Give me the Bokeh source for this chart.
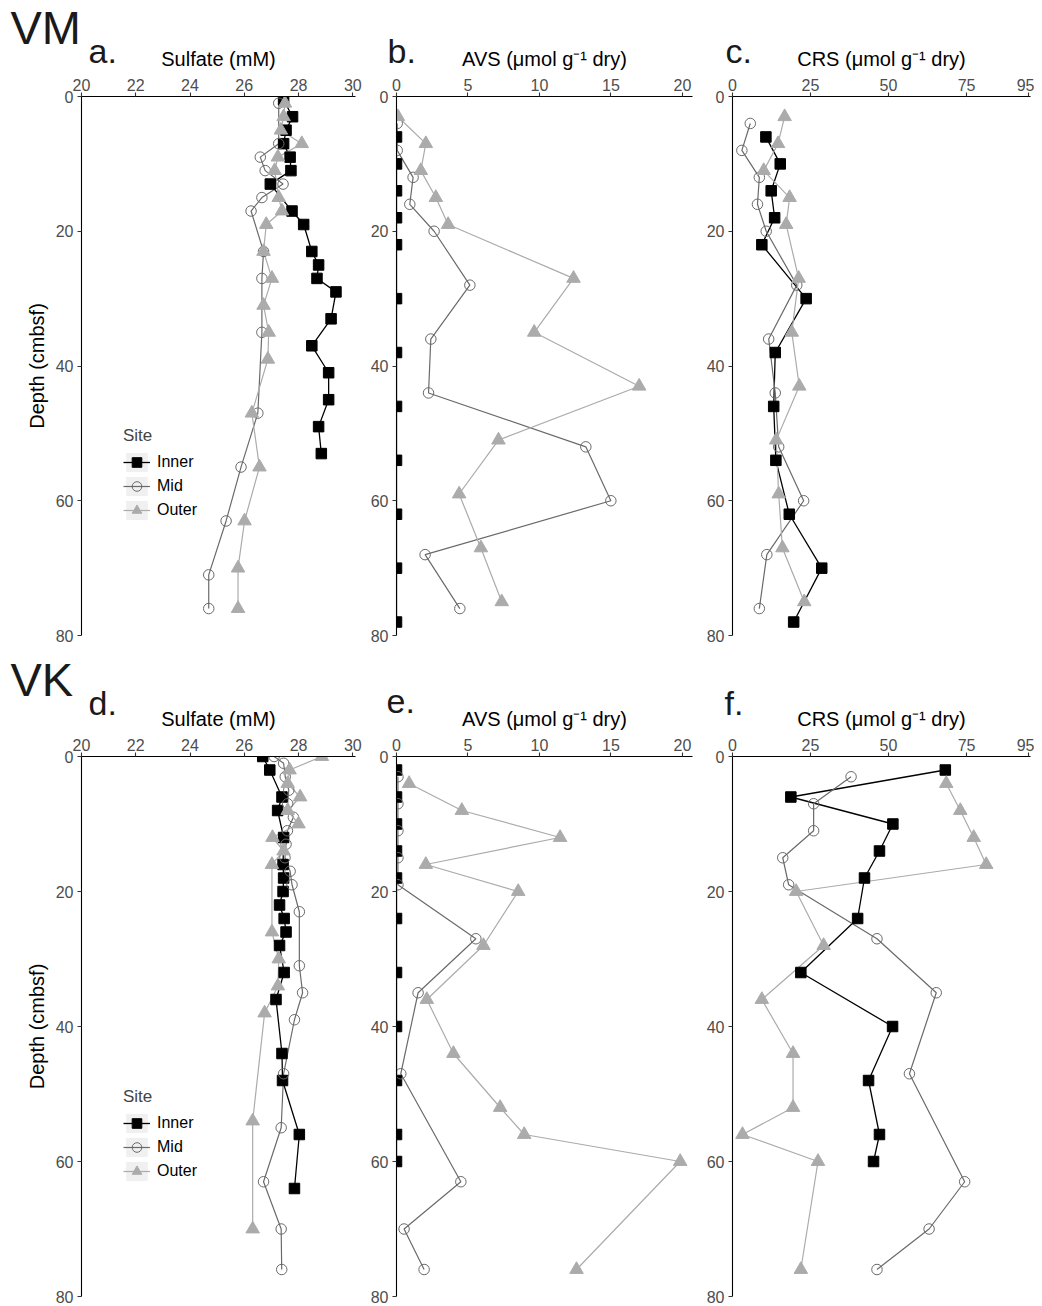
from bokeh.plotting import figure
from bokeh.models import Range1d, FixedTicker, Legend, LegendItem
from bokeh.core.properties import value
from bokeh.layouts import row, column
from bokeh.embed import file_html
from bokeh.resources import INLINE

FONT = "Liberation Sans"

# ---------------- data ----------------
depth_ticks = [0, 20, 40, 60, 80]
sulfate_ticks = [20, 22, 24, 26, 28, 30]
avs_ticks = [0, 5, 10, 15, 20]
crs_ticks = [0, 25, 50, 75, 95]
sites = ["Inner", "Mid", "Outer"]

# VM – sulfate (mM)
vm_so4_inner_depth = [0.5, 3, 5, 7, 9, 11, 13, 17, 19, 23, 25, 27, 29, 33, 37, 41, 45, 49, 53]
vm_so4_inner = [27.45, 27.78, 27.54, 27.45, 27.69, 27.72, 26.96, 27.76, 28.19, 28.49, 28.74, 28.68,
                29.38, 29.20, 28.49, 29.11, 29.11, 28.74, 28.84]
vm_so4_mid_depth = [1, 7, 9, 11, 13, 15, 17, 23, 27, 35, 47, 55, 63, 71, 76]
vm_so4_mid = [27.27, 27.27, 26.59, 26.77, 27.43, 26.65, 26.25, 26.71, 26.65, 26.65, 26.5, 25.88,
              25.33, 24.69, 24.69]
vm_so4_outer_depth = [1, 3, 5, 7, 9, 11, 15, 17, 19, 23, 27, 31, 35, 39, 47, 55, 63, 70, 76]
vm_so4_outer = [27.5, 27.45, 27.35, 28.12, 27.24, 27.12, 27.27, 27.39, 26.81, 26.71, 27.02, 26.71,
                26.9, 26.87, 26.28, 26.56, 26.01, 25.77, 25.77]

# VM – AVS (umol/g dry)
vm_avs_inner_depth = [6, 10, 14, 18, 22, 30, 38, 46, 54, 62, 70, 78]
vm_avs_inner = [0, 0, 0, 0, 0, 0, 0, 0, 0, 0, 0, 0]
vm_avs_mid_depth = [4, 8, 12, 16, 20, 28, 36, 44, 52, 60, 68, 76]
vm_avs_mid = [0.05, 0.05, 1.16, 0.93, 2.63, 5.13, 2.4, 2.24, 13.24, 14.99, 2.0, 4.43]
vm_avs_outer_depth = [3, 7, 11, 15, 19, 27, 35, 43, 51, 59, 67, 75]
vm_avs_outer = [0.1, 2.05, 1.7, 2.75, 3.61, 12.38, 9.63, 16.97, 7.13, 4.38, 5.9, 7.36]

# VM – CRS (umol/g dry)
vm_crs_inner_depth = [6, 10, 14, 18, 22, 30, 38, 46, 54, 62, 70, 78]
vm_crs_inner = [10.7, 15.3, 12.4, 13.5, 9.4, 23.6, 13.7, 13.2, 13.9, 18.2, 28.6, 19.6]
vm_crs_mid_depth = [4, 8, 12, 16, 20, 28, 36, 44, 52, 60, 68, 76]
vm_crs_mid = [5.7, 3.0, 8.6, 8.0, 10.8, 20.6, 11.6, 13.7, 14.8, 22.8, 11.0, 8.6]
vm_crs_outer_depth = [3, 7, 11, 15, 19, 27, 35, 43, 51, 59, 67, 75]
vm_crs_outer = [16.7, 14.6, 10.0, 18.3, 17.2, 21.2, 19.0, 21.4, 14.0, 14.8, 16.0, 23.0]

# VK – sulfate (mM)
vk_so4_inner_depth = [0, 2, 6, 8, 12, 16, 18, 20, 22, 24, 26, 28, 32, 36, 44, 48, 56, 64]
vk_so4_inner = [26.68, 26.94, 27.39, 27.23, 27.45, 27.43, 27.45, 27.43, 27.30, 27.47, 27.54, 27.30,
                27.47, 27.17, 27.39, 27.41, 28.03, 27.85]
vk_so4_mid_depth = [0, 1, 3, 5, 7, 9, 11, 13, 15, 17, 19, 23, 31, 35, 39, 47, 55, 63, 70, 76]
vk_so4_mid = [27.1, 27.45, 27.51, 27.64, 27.6, 27.81, 27.59, 27.54, 27.5, 27.69, 27.76, 28.03, 28.03,
              28.15, 27.85, 27.45, 27.36, 26.71, 27.36, 27.38]
vk_so4_outer_depth = [0, 2, 4, 6, 8, 10, 12, 14, 16, 26, 30, 34, 38, 54, 70]
vk_so4_outer = [28.86, 27.67, 27.6, 28.06, 27.6, 28.0, 27.04, 27.45, 27.02, 27.02, 27.27, 27.24,
                26.75, 26.31, 26.31]

# VK – AVS (umol/g dry)
vk_avs_inner_depth = [2, 6, 10, 14, 18, 24, 32, 40, 48, 56, 60]
vk_avs_inner = [0, 0, 0, 0, 0, 0, 0, 0, 0, 0, 0]
vk_avs_mid_depth = [3, 7, 11, 15, 19, 27, 35, 47, 63, 70, 76]
vk_avs_mid = [0.1, 0.1, 0.1, 0.1, 0.1, 5.55, 1.51, 0.3, 4.5, 0.53, 1.93]
vk_avs_outer_depth = [4, 8, 12, 16, 20, 28, 36, 44, 52, 56, 60, 76]
vk_avs_outer = [0.88, 4.57, 11.44, 2.05, 8.51, 6.08, 2.12, 3.98, 7.25, 8.93, 19.84, 12.59]

# VK – CRS (umol/g dry)
vk_crs_inner_depth = [2, 6, 10, 14, 18, 24, 32, 40, 48, 56, 60]
vk_crs_inner = [68.2, 18.7, 51.4, 47.1, 42.3, 40.1, 21.9, 51.3, 43.6, 47.1, 45.2]
vk_crs_mid_depth = [3, 7, 11, 15, 19, 27, 35, 47, 63, 70, 76]
vk_crs_mid = [38.0, 26.0, 26.0, 16.1, 18.0, 46.3, 65.3, 56.7, 74.4, 63.0, 46.3]
vk_crs_outer_depth = [4, 8, 12, 16, 20, 28, 36, 44, 52, 56, 60, 76]
vk_crs_outer = [68.5, 73.0, 77.3, 81.3, 20.4, 29.2, 9.4, 19.4, 19.4, 3.2, 27.4, 21.9]

# ---------------- styles ----------------
STYLE = {
    "Inner": dict(color="#000000", marker="square", size=10.5, fill="#000000", lw=1.3),
    "Mid": dict(color="#6a6a6a", marker="circle", size=10.5, fill=None, lw=1.2),
    "Outer": dict(color="#ababab", marker="triangle", size=13.5, fill="#ababab", lw=1.2),
}
TICK_COLOR = "#4d4d4d"
TOTAL_W = 1034

SO4_R = (20, 30.1)
AVS_R = (0, 20.7)
CRS_R = (0, 95.5)
SO4_LAB = "Sulfate (mM)"
AVS_LAB = "AVS (\u03bcmol g\u207b\u00b9 dry)"
CRS_LAB = "CRS (\u03bcmol g\u207b\u00b9 dry)"


def make_panel(xr, xticks, fw, fh, bl, bt, br, bb, ylabel=None):
    p = figure(frame_width=fw, frame_height=fh,
               x_range=Range1d(xr[0], xr[1]), y_range=Range1d(80, 0),
               x_axis_location="above", output_backend="svg", toolbar_location=None,
               min_border_left=bl, min_border_right=br, min_border_top=bt, min_border_bottom=bb)
    p.xgrid.visible = False
    p.ygrid.visible = False
    p.outline_line_color = None
    p.background_fill_color = "white"
    p.border_fill_color = "white"
    p.xaxis.ticker = FixedTicker(ticks=xticks)
    p.yaxis.ticker = FixedTicker(ticks=depth_ticks)
    p.yaxis.axis_label = ylabel
    for ax in (p.xaxis[0], p.yaxis[0]):
        ax.axis_line_color = "black"
        ax.axis_line_width = 1.1
        ax.major_tick_line_color = "#333333"
        ax.major_tick_line_width = 1.1
        ax.major_tick_out = 4
        ax.major_tick_in = 0
        ax.minor_tick_line_color = None
        ax.major_label_text_font = FONT
        ax.major_label_text_font_size = "16px"
        ax.major_label_text_color = TICK_COLOR
        ax.axis_label_text_font = FONT
        ax.axis_label_text_font_size = "20px"
        ax.axis_label_text_font_style = "normal"
        ax.axis_label_text_color = "black"
    p.xaxis.major_label_standoff = 2
    p.yaxis.major_label_standoff = 4
    p.yaxis.axis_label_standoff = 5
    return p


def add_series(p, series):
    lines, marks = {}, {}
    for site in sites:
        d, v = series[site]
        st = STYLE[site]
        lines[site] = p.line(x=v, y=d, line_color=st["color"], line_width=st["lw"])
    for site in sites:
        d, v = series[site]
        st = STYLE[site]
        marks[site] = p.scatter(x=v, y=d, marker=st["marker"], size=st["size"],
                                fill_color=st["fill"], line_color=st["color"], line_width=1.0)
    return lines, marks


def add_legend(p, lines, marks, loc):
    items = []
    for site in sites:
        bg = p.rect(x=[float("nan")], y=[float("nan")], width=1, height=1,
                    fill_color="#f0f0f0", line_color=None)
        items.append(LegendItem(label=site, renderers=[bg, lines[site], marks[site]]))
    lg = Legend(items=items, location=loc, title="Site",
                background_fill_alpha=0, border_line_color=None,
                padding=0, margin=0, spacing=0,
                glyph_width=27, glyph_height=24, label_standoff=7,
                label_text_font=FONT, label_text_font_size="16px", label_text_color="black",
                title_text_font=FONT, title_text_font_size="17px", title_text_font_style="normal",
                title_standoff=4)
    p.add_layout(lg)


def mid_y(baseline, size):
    # vertical middle of the text box for a wanted alphabetic baseline (Liberation Sans metrics)
    return baseline - 0.3465 * size


def header(h, row_tag, panel_tags, titles):
    """A text-only strip in pixel coordinates holding the row tag, panel tags and axis titles."""
    p = figure(frame_width=TOTAL_W, frame_height=h, x_range=Range1d(0, TOTAL_W),
               y_range=Range1d(h, 0), x_axis_type=None, y_axis_type=None,
               output_backend="svg", toolbar_location=None, min_border=0)
    p.grid.visible = False
    p.outline_line_color = None
    p.background_fill_color = "white"
    p.border_fill_color = "white"
    txt, x, y = row_tag
    p.text(x=[x], y=[mid_y(y, 47)], text=[txt], text_font=value(FONT), text_font_size=value("47px"),
           text_color="#1a1a1a", text_align="left", text_baseline="middle")
    p.text(x=[t[1] for t in panel_tags], y=[mid_y(t[2], 34) for t in panel_tags],
           text=[t[0] for t in panel_tags],
           text_font=value(FONT), text_font_size=value("34px"), text_color="#1a1a1a",
           text_align="left", text_baseline="middle")
    p.text(x=[t[1] for t in titles], y=[mid_y(t[2], 20) for t in titles], text=[t[0] for t in titles],
           text_font=value(FONT), text_font_size=value("20px"), text_color="black",
           text_align="center", text_baseline="middle")
    return p


# geometry (pixels)
BT = 26          # space above each frame for tick labels
H1, H2 = 70, 85  # header strip heights
FW_A, FW_B, FW_C = 274, 296, 298
BL_A, BL_B, BL_C = 81, 31, 32
BR_A, BR_B, BR_C = 10, 8, 4
X_A = BL_A
X_B = BL_A + FW_A + BR_A + BL_B
X_C = X_B + FW_B + BR_B + BL_C

# ---------------- row 1 (VM) ----------------
FH1 = 539
hdr1 = header(H1, ("VM", 10, 43),
              [("a.", X_A + 7, 62), ("b.", X_B - 9, 62), ("c.", X_C - 7, 62)],
              [(SO4_LAB, X_A + FW_A / 2, H1 + BT - 31), (AVS_LAB, X_B + FW_B / 2, H1 + BT - 31),
               (CRS_LAB, X_C + FW_C / 2, H1 + BT - 31)])

pa = make_panel(SO4_R, sulfate_ticks, FW_A, FH1, BL_A, BT, BR_A, 10, ylabel="Depth (cmbsf)")
la, ma = add_series(pa, {"Inner": (vm_so4_inner_depth, vm_so4_inner),
                         "Mid": (vm_so4_mid_depth, vm_so4_mid),
                         "Outer": (vm_so4_outer_depth, vm_so4_outer)})
add_legend(pa, la, ma, (42, 113))

pb = make_panel(AVS_R, avs_ticks, FW_B, FH1, BL_B, BT, BR_B, 10)
add_series(pb, {"Inner": (vm_avs_inner_depth, vm_avs_inner),
                "Mid": (vm_avs_mid_depth, vm_avs_mid),
                "Outer": (vm_avs_outer_depth, vm_avs_outer)})

pc = make_panel(CRS_R, crs_ticks, FW_C, FH1, BL_C, BT, BR_C, 10)
add_series(pc, {"Inner": (vm_crs_inner_depth, vm_crs_inner),
                "Mid": (vm_crs_mid_depth, vm_crs_mid),
                "Outer": (vm_crs_outer_depth, vm_crs_outer)})

# ---------------- row 2 (VK) ----------------
FH2 = 540
hdr2 = header(H2, ("VK", 10, 50),
              [("d.", X_A + 7, 69), ("e.", X_B - 10, 68), ("f.", X_C - 8, 69)],
              [(SO4_LAB, X_A + FW_A / 2, H2 + BT - 31), (AVS_LAB, X_B + FW_B / 2, H2 + BT - 31),
               (CRS_LAB, X_C + FW_C / 2, H2 + BT - 31)])

pd_ = make_panel(SO4_R, sulfate_ticks, FW_A, FH2, BL_A, BT, BR_A, 9, ylabel="Depth (cmbsf)")
ld, md = add_series(pd_, {"Inner": (vk_so4_inner_depth, vk_so4_inner),
                          "Mid": (vk_so4_mid_depth, vk_so4_mid),
                          "Outer": (vk_so4_outer_depth, vk_so4_outer)})
add_legend(pd_, ld, md, (42, 113))

pe = make_panel(AVS_R, avs_ticks, FW_B, FH2, BL_B, BT, BR_B, 9)
add_series(pe, {"Inner": (vk_avs_inner_depth, vk_avs_inner),
                "Mid": (vk_avs_mid_depth, vk_avs_mid),
                "Outer": (vk_avs_outer_depth, vk_avs_outer)})

pf = make_panel(CRS_R, crs_ticks, FW_C, FH2, BL_C, BT, BR_C, 9)
add_series(pf, {"Inner": (vk_crs_inner_depth, vk_crs_inner),
                "Mid": (vk_crs_mid_depth, vk_crs_mid),
                "Outer": (vk_crs_outer_depth, vk_crs_outer)})

layout = column(hdr1, row(pa, pb, pc), hdr2, row(pd_, pe, pf))
open("out.html", "w").write(file_html(layout, INLINE))
